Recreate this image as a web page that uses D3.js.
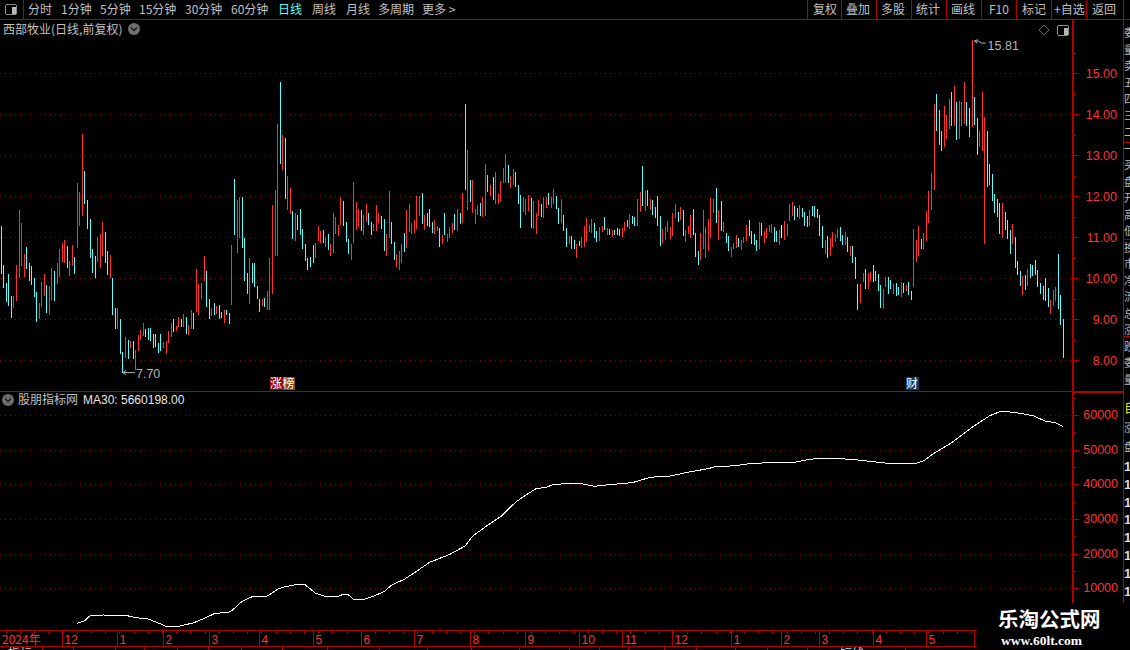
<!DOCTYPE html>
<html><head><meta charset="utf-8">
<script src="https://cdn.jsdelivr.net/npm/d3@7"></script>
<style>html,body{margin:0;padding:0;background:#000;overflow:hidden}svg{display:block}</style>
</head><body><svg id="c" width="1130" height="650"></svg>
<script>
// daily bar highs (price)
const barHigh = [
11.28,10.33,9.89,10.11,9.57,9.57,10.33,11.67,11.35,10.59,10.76,10.37,10.30,10.01,9.67,9.40,9.91,10.11,9.84,9.81,
10.25,10.18,10.37,10.71,10.86,10.93,10.79,10.42,10.81,10.52,12.32,12.10,13.52,12.62,11.91,11.45,10.71,10.54,11.01,11.08,
11.37,11.13,10.66,10.57,10.01,9.28,9.28,9.00,8.20,8.57,8.50,8.47,8.47,8.25,8.62,8.74,8.91,8.76,8.79,8.79,
8.64,8.64,8.42,8.64,8.45,8.47,8.71,8.91,9.01,8.84,9.06,9.01,9.13,9.06,8.86,9.23,9.15,10.23,9.86,9.88,
10.54,10.18,9.49,9.28,9.40,9.32,9.35,9.18,9.23,9.23,9.15,10.81,12.42,11.91,11.98,11.98,10.98,10.13,10.50,10.37,
10.37,9.81,9.49,9.49,9.52,9.69,10.50,11.79,12.15,13.76,14.78,13.49,13.42,12.49,12.20,11.64,11.59,11.54,
11.69,11.20,10.84,10.50,10.52,10.81,10.86,11.28,11.15,11.18,11.01,11.08,10.84,11.59,11.50,11.30,11.96,11.89,11.37,10.96,
10.84,12.35,11.86,11.69,11.67,11.55,11.81,11.59,11.37,11.33,11.79,11.59,11.52,11.45,11.08,12.13,11.37,10.89,10.59,10.67,
10.84,11.11,11.67,11.81,11.35,11.42,12.01,12.01,12.08,11.55,11.59,11.69,11.37,11.42,11.28,11.23,11.06,11.59,11.08,11.25,
11.35,11.57,11.69,11.59,12.08,14.25,13.13,12.40,12.40,11.69,11.79,11.84,11.98,12.79,12.52,12.28,12.47,12.59,12.06,12.37,
12.69,13.03,12.76,12.50,12.67,12.59,12.28,12.03,11.98,11.94,12.03,11.96,11.89,11.59,11.91,11.81,11.98,11.98,12.08,11.98,
12.18,12.01,11.72,11.94,11.55,11.23,11.03,11.03,10.94,10.84,10.91,11.01,11.28,11.47,11.30,11.45,11.35,11.15,11.25,
11.28,11.50,11.23,11.20,11.18,11.18,11.23,11.20,11.23,11.37,11.42,11.57,11.52,11.50,11.93,12.11,12.74,12.13,12.15,11.93,
11.91,11.74,12.01,11.52,11.20,11.25,11.40,11.25,11.59,11.81,11.62,11.74,11.67,11.18,11.28,11.54,11.69,11.10,10.67,11.10,
11.67,11.25,11.45,11.96,11.93,12.20,11.67,11.89,11.37,11.10,11.03,10.76,10.86,11.06,10.98,10.93,11.01,11.30,11.42,11.15,
11.08,10.93,11.37,11.35,11.15,11.23,11.30,11.33,11.25,11.15,11.18,11.30,11.40,11.33,11.81,11.86,11.76,11.72,11.79,11.72,
11.62,11.52,11.67,11.76,11.76,11.69,11.54,11.28,10.93,11.03,10.98,11.13,11.08,11.20,11.25,11.06,11.13,11.01,10.79,10.79,
10.52,9.86,9.86,10.13,10.23,10.13,10.15,10.32,10.18,10.11,9.84,9.74,10.03,10.03,9.96,9.86,9.89,9.79,
9.91,9.89,9.84,9.91,9.69,11.21,10.94,11.28,10.96,11.11,11.65,12.13,12.57,14.26,14.50,14.11,13.60,14.21,13.99,14.38,
14.55,14.69,14.30,14.33,14.30,14.79,14.30,14.16,15.81,14.43,13.91,13.60,14.55,13.94,13.60,12.79,12.55,12.06,11.94,11.84,
11.84,11.62,11.43,11.18,11.33,11.01,10.43,10.18,10.06,10.08,10.23,10.35,10.33,10.45,10.21,9.89,9.82,10.01,9.77,9.47,
9.72,9.79,10.60,9.60,9.01];
// daily bar lows (price)
const barLow = [
10.11,9.77,9.41,9.32,9.03,9.28,9.45,10.01,10.30,10.03,10.23,9.93,9.84,9.54,8.93,9.01,9.30,9.57,9.15,9.10,
9.47,9.45,9.86,10.03,10.40,10.37,10.25,10.06,10.30,10.11,10.74,11.28,11.52,11.81,11.20,10.50,10.13,10.01,10.40,10.25,
10.54,10.37,10.08,10.01,9.10,8.76,8.76,8.15,7.70,8.06,8.03,8.30,8.03,7.76,8.23,8.50,8.59,8.57,8.50,8.47,
8.30,8.32,8.18,8.23,8.30,8.15,8.42,8.57,8.69,8.71,8.81,8.81,8.81,8.64,8.62,8.76,8.76,9.18,9.10,9.49,
9.93,9.30,9.01,9.08,9.10,9.13,9.01,9.03,8.91,9.10,8.88,9.35,11.06,10.62,10.98,10.74,9.93,9.62,9.37,9.88,
9.79,9.49,9.18,9.32,9.30,9.23,9.23,9.62,10.54,10.54,12.79,12.64,11.93,11.67,11.57,10.96,10.91,11.18,
11.06,10.72,10.42,10.20,10.28,10.37,10.50,10.91,10.86,10.86,10.76,10.69,10.55,10.62,11.08,11.03,11.30,11.28,10.89,10.59,
10.45,10.86,11.18,11.25,11.15,11.06,11.37,11.30,11.06,11.15,11.15,11.35,11.20,10.67,10.55,10.98,10.84,10.45,10.28,10.20,
10.37,10.64,10.74,11.13,11.08,11.11,11.20,11.52,11.33,11.18,11.28,11.25,11.11,11.08,11.15,10.76,10.84,11.06,10.89,10.98,
11.11,11.18,11.15,11.33,11.35,12.15,11.67,11.86,11.59,11.33,11.55,11.52,11.50,11.52,12.11,12.01,11.91,11.81,11.81,11.86,
12.33,12.33,12.33,12.20,12.28,12.23,11.81,11.23,11.62,11.55,11.64,11.23,11.20,11.08,11.52,11.50,11.47,11.72,11.79,11.72,
11.81,11.69,11.33,11.35,11.15,10.76,10.84,10.72,10.72,10.50,10.79,10.74,10.76,10.89,11.13,11.11,10.98,10.89,10.91,
11.13,11.18,11.06,11.06,11.01,11.06,11.06,11.03,11.01,11.15,11.25,11.20,11.33,11.28,11.28,11.62,11.76,11.64,11.76,11.67,
11.54,11.47,11.28,10.79,10.86,10.93,11.13,10.96,11.03,11.47,11.37,11.42,11.03,10.89,11.08,10.98,11.06,10.52,10.33,10.45,
10.72,10.50,10.67,10.98,11.59,11.35,10.93,11.15,11.13,10.86,10.67,10.52,10.72,10.74,10.76,10.69,10.86,10.91,11.03,10.84,
10.81,10.67,10.72,11.03,10.86,10.98,11.13,11.10,10.89,10.89,10.81,10.98,10.93,11.03,11.40,11.52,11.42,11.50,11.45,11.50,
11.28,11.25,11.28,11.52,11.50,11.47,11.03,10.74,10.59,10.50,10.54,10.76,10.89,10.98,10.91,10.81,10.81,10.64,10.54,10.37,
9.98,9.23,9.40,9.91,9.74,9.74,9.93,9.91,9.93,9.69,9.28,9.25,9.79,9.62,9.74,9.62,9.57,9.59,
9.55,9.64,9.68,9.60,9.47,9.79,10.40,10.55,10.72,10.72,10.91,11.35,11.67,12.16,13.60,13.26,13.11,13.21,13.40,13.65,
13.72,13.72,13.38,13.40,13.72,13.77,13.72,13.45,13.69,13.74,13.01,13.21,13.11,10.84,12.23,12.28,11.89,11.60,11.50,11.08,
10.99,11.18,10.96,10.60,10.84,10.26,10.08,9.82,9.60,9.72,9.82,10.01,10.06,10.08,9.79,9.62,9.47,9.45,9.30,9.13,
9.33,9.45,9.26,8.87,8.06];
// bar direction: r = up, c = down, w = flat
const barDir = [
"cccccrrrrrcccccrrrcr","rcrrrrcrrcrrrcccccrr","rccrccrccrcrcrrrrccc","ccccrrrrcrrcrcrrcrrr",
"rccrcrccrccrcrrcccrc","cccrcrrrrrcrcrrcrc","ccccccrrrcrcrrrrrccc","rrrrcrrccrrrccrrccrr",
"rcrrrrrrcrcccrrcrcrr","rcrcrcrcrrrcrrcrcrrr","rrcrrcccrrrcrrrcrrcr","rccrccrccrcrrrrrccr",
"rcrcrcccrrcrccrrcrcr","ccccrrrrrrcrcrrrcccr","rrrrrcrcrccrrrcrrrcc","ccrcrrrrccrwrrrrccrc",
"ccrcccccrcrrrrccrcrc","ccrrcrrccccrrccrcc","rcrccrrrcrrrrrcccrrr","crcrrrccrccrrrcccccc",
"rcccrcccrcrccccccccr","rrccc"
].join("").split("");
// MA30 line: bar index and value
const maIdx = [30,33,35,37,40,49,53,58,61,65,70,76,81,84,90,91,94,96,99,105,109,112,116,120,124,128,132,135,137,139,143,147,151,154,159,164,169,177,183,186,193,197,203,207,211,215,218,228,234,240,249,256,264,272,279,282,289,295,303,313,318,323,327,331,338,345,352,360,364,368,375,383,390,394,397,401,407,412,416,419];
const maVal = [-100,650,2090,2000,2300,2210,1515,1140,275,-970,-970,70,1630,2670,3160,3535,5670,6620,7575,7780,9710,10460,11040,10950,8560,7575,7490,8270,8070,6830,6830,7780,9020,10950,12600,14990,17500,19810,22210,25090,28760,30660,34900,36930,38740,39150,40010,40300,39440,39900,40480,42030,42410,43650,44520,45210,45300,45960,46250,46360,47110,47520,47320,47400,47030,46450,45870,45870,46830,48960,52020,56460,59810,60970,60970,60590,59810,58200,57790,56602];
// ticks and labels
const priceTicks = [8,9,10,11,12,13,14,15];
const priceMinor = [8.5,9.5,10.5,11.5,12.5,13.5,14.5,15.5];
const maTicks = [10000,20000,30000,40000,50000,60000];
const maMinor = [5000,15000,25000,35000,45000,55000,65000];
const monthIdx = [24,46,64,82,102,123,142,163,185,207,228,245,265,288,308,323,344,365,384];
const monthLab = ["12","1","2","3","4","5","6","7","8","9","10","11","12","1","2","3","4","5","6"];
const toolLeft = ["分时","1分钟","5分钟","15分钟","30分钟","60分钟","日线","周线","月线","多周期","更多 >"];
const toolLeftX = [28,61,100,139,185,231,278,312,346,378,422];
const toolRight = ["复权","叠加","多股","统计","画线","F10","标记","+自选","返回"];
const toolRightX = [813,846,881,916,951,989,1022,1054,1092];
const toolSep = [807,841,876,911,946,981,1016,1051,1086,1123];
const bottomSep = [42,73,115,144,177,208,241,282,327,379,427,471,519,569,599,628,664,696,735,767,807,860,905];

const RED="#ff3232", CY="#54ffff", LINE="#b00000", GRID="#8a0000", TXT="#c0c0c0";
const CJK="'Noto Sans CJK SC',sans-serif", NUM="'Liberation Sans',sans-serif";
const svg=d3.select("#c");
const n=barHigh.length;
const x=d3.scaleLinear().domain([0,419]).range([1.3,1063.3]);
const yP=d3.scaleLinear().domain([8,15]).range([360.3,73.3]);
const yM=d3.scaleLinear().domain([10000,60000]).range([588.3,415]);
const px=i=>Math.floor(x(i));
const text=(t,xx,yy,o={})=>svg.append("text").attr("x",xx).attr("y",yy)
  .attr("fill",o.fill||TXT).attr("font-family",o.font||CJK).attr("font-size",o.size||12)
  .attr("font-weight",o.weight||400).attr("text-anchor",o.anchor||"start").attr("dominant-baseline","alphabetic").text(t);
const hline=(x1,x2,y,c=LINE,w=1)=>svg.append("line").attr("x1",x1).attr("x2",x2).attr("y1",y).attr("y2",y).attr("stroke",c).attr("stroke-width",w);
const vline=(xx,y1,y2,c=LINE,w=1)=>svg.append("line").attr("x1",xx).attr("x2",xx).attr("y1",y1).attr("y2",y2).attr("stroke",c).attr("stroke-width",w);
svg.attr("shape-rendering","crispEdges");
svg.append("rect").attr("width",1130).attr("height",650).attr("fill","#000");

// grids
const dots="1 4";
svg.append("g").selectAll("line").data(priceTicks).join("line")
  .attr("x1",0).attr("x2",1072).attr("y1",d=>Math.round(yP(d))+.5).attr("y2",d=>Math.round(yP(d))+.5)
  .attr("stroke",GRID).attr("stroke-dasharray",dots);
svg.append("g").selectAll("line").data(maTicks).join("line")
  .attr("x1",0).attr("x2",1072).attr("y1",d=>Math.round(yM(d))+.5).attr("y2",d=>Math.round(yM(d))+.5)
  .attr("stroke",GRID).attr("stroke-dasharray",dots);

// bars
svg.append("g").selectAll("rect").data(d3.range(n)).join("rect")
  .attr("x",i=>px(i)).attr("width",1)
  .attr("y",i=>yP(barHigh[i])).attr("height",i=>Math.max(1,yP(barLow[i])-yP(barHigh[i])))
  .attr("fill",i=>barDir[i]==="r"?RED:barDir[i]==="c"?CY:"#fff");

// MA line
svg.append("path").attr("fill","none").attr("stroke","#fff").attr("stroke-width",1)
  .attr("d",d3.line().x((d,i)=>x(maIdx[i])).y(d=>yM(d))(maVal));

// panes frame
hline(0,1130,19.5);
hline(0,1124,391.5);
hline(0,977,630.5);
hline(0,977,646.5);
vline(1073,20,630,LINE,2);
vline(1123.5,20,630,LINE,1);
hline(1073,1124,392,LINE,2);

// toolbar
toolSep.forEach(v=>vline(v+.5,0,19));
vline(23.5,0,19);
toolLeft.forEach((t,i)=>text(t,toolLeftX[i],14,{fill:t==="日线"?CY:TXT}));
toolRight.forEach((t,i)=>text(t,toolRightX[i],14));
const winIcon=(xx,yy)=>{
  svg.append("rect").attr("x",xx).attr("y",yy).attr("width",11).attr("height",10).attr("rx",2).attr("fill","#000").attr("stroke","#8c8c8c");
  svg.append("rect").attr("x",xx+6).attr("y",yy+2).attr("width",4).attr("height",7).attr("fill","#b8b8b8");
};
winIcon(5.5,4.5); winIcon(1057.5,25.5);
svg.append("path").attr("d","M1039 30l5-5 5 5-5 5z").attr("fill","none").attr("stroke","#666").attr("shape-rendering","auto");
const chev=(cx,cy)=>{
  svg.append("circle").attr("cx",cx).attr("cy",cy).attr("r",6).attr("fill","#6e6e6e").attr("shape-rendering","auto");
  svg.append("path").attr("d",`M${cx-3} ${cy-1.5}l3 3 3-3`).attr("fill","none").attr("stroke","#1a1a1a").attr("stroke-width",1.3).attr("shape-rendering","auto");
};
text("西部牧业(日线,前复权)",3,34);
chev(134,29);
chev(8,400);
text("股朋指标网",18,404);
text("MA30: 5660198.00",83,404,{fill:"#e6e6e6",font:NUM,size:12});

// axes
priceTicks.forEach(v=>{const yy=Math.round(yP(v))+.5; hline(1073,1079,yy); text(v.toFixed(2),1117,yy+4,{fill:RED,font:NUM,anchor:"end",size:12.5});});
priceMinor.forEach(v=>{const yy=Math.round(yP(v))+.5; if(yy>20) hline(1073,1076,yy);});
maTicks.forEach(v=>{const yy=Math.round(yM(v))+.5; hline(1073,1079,yy); text(v,1118,yy+3.5,{fill:RED,font:NUM,anchor:"end",size:12.5});});
maMinor.forEach(v=>{const yy=Math.round(yM(v))+.5; if(yy>392&&yy<630) hline(1073,1076,yy);});

// high / low marks
const mark=(i,val,dx,t,sq)=>{
  const X=x(i),Y=yP(val);
  const yy=sq?Y+1:Y;
  svg.append("path").attr("fill","none").attr("stroke","#b4b4b4").attr("shape-rendering","auto")
    .attr("d",sq?`M${X} ${Y+1}l3 -1.5M${X} ${Y+1}l3 2M${X} ${Y+1}h4l3 2h4`:`M${X} ${yy}h12M${X} ${yy}l3 -2M${X} ${yy}l3 2`);
  text(t,X+dx,yy+(sq?9:5),{fill:"#b4b4b4",font:NUM,size:12.5});
};
mark(48,7.70,13,"7.70",false);
mark(384,15.81,13,"15.81",true);

// event tags
const tag=(xx,w,fill,t)=>{
  svg.append("rect").attr("x",xx).attr("y",377).attr("width",w).attr("height",13).attr("fill",fill);
  text(t,xx,388,{fill:"#fff",size:12});
};
tag(270,12.5,"#8f0808","涨"); tag(282.5,12.5,"#8a4a00","榜"); tag(906,13,"#0c3a6e","财");

// time axis
text("2024年",2,644,{fill:RED});
monthIdx.forEach((v,i)=>{
  const X=px(v)+.5;
  vline(X,631,646);
  text(monthLab[i],X+2,644,{fill:RED,font:NUM,size:12});
});
d3.range(2,383,5.6).forEach(v=>vline(px(v)+.5,631,634));
bottomSep.forEach(v=>vline(v+.5,647,650));
text("指标",8,658,{fill:"#ccc"});
text("短线",840,658,{fill:CY});

// right clipped column
svg.append("clipPath").attr("id","edge").append("rect").attr("x",1124).attr("y",20).attr("width",6).attr("height",610);
const edge=svg.append("g").attr("clip-path","url(#edge)");
const edgeRows=["委","量","卖","五","四","三","二","一","买","盘","开","高","低","换","市","净","流","总","涨","跌"];
d3.range(25,385,16.5).forEach((yy,i)=>edge.append("text").attr("x",1124).attr("y",yy+12).attr("fill","#bbb").attr("font-size",11).attr("font-family",CJK).text(edgeRows[i%edgeRows.length]));
edge.append("text").attr("x",1124).attr("y",412).attr("fill","#e0e000").attr("font-size",13).attr("font-family",CJK).text("自");
edge.append("text").attr("x",1124).attr("y",432).attr("fill","#bbb").attr("font-size",11).attr("font-family",CJK).text("涨");
edge.append("text").attr("x",1124).attr("y",451).attr("fill","#bbb").attr("font-size",11).attr("font-family",CJK).text("盘");
d3.range(471,630,17.8).forEach(yy=>edge.append("text").attr("x",1124).attr("y",yy).attr("fill","#ddd").attr("font-size",13).attr("font-weight",700).attr("font-family",NUM).text("1"));
[45,65,142,239,336].forEach(yy=>hline(1124,1130,yy+.5));

// watermark
svg.append("rect").attr("x",977).attr("y",603).attr("width",153).attr("height",47).attr("fill","#000");
text("乐淘公式网",998,627,{fill:"#fff",size:20.5,weight:700});
text("www.60lt.com",1001,645,{fill:"#fff",font:"'Liberation Serif',serif",size:13.5,weight:700});
</script>
</body></html>
